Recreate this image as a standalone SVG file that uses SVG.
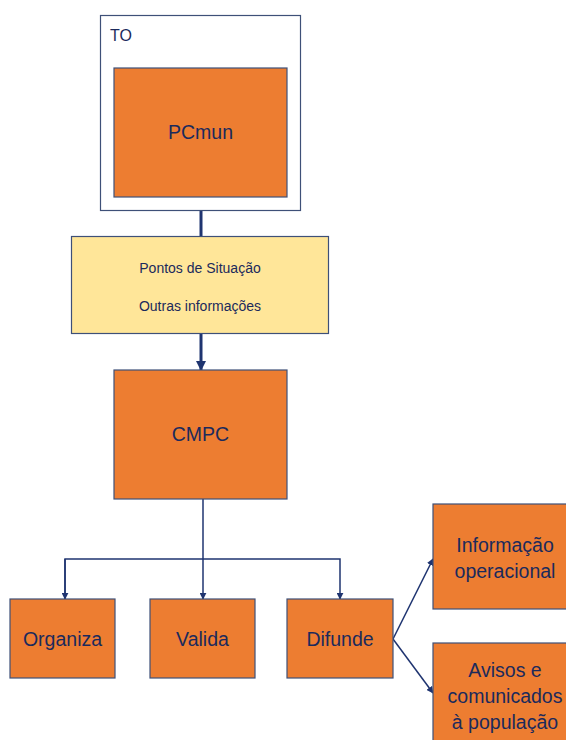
<svg xmlns="http://www.w3.org/2000/svg" width="566" height="740" viewBox="0 0 566 740">
<style>
.box{fill:#ED7D31;stroke:#3E5078;stroke-width:1.2}
.t{font-family:"Liberation Sans",Arial,sans-serif;fill:#1B2A5C;text-anchor:middle}
.big{font-size:19.5px}
.sm{font-size:14px}
.ln{stroke:#1F3470;stroke-width:1.5;fill:none}
</style>
<defs>
<marker id="ah" viewBox="0 0 10 10" refX="9" refY="5" markerWidth="7" markerHeight="7" orient="auto" markerUnits="userSpaceOnUse"><path d="M0,0 L10,5 L0,10 z" fill="#1F3470"/></marker>
<marker id="ahb" viewBox="0 0 10 10" refX="9" refY="5" markerWidth="10" markerHeight="10" orient="auto" markerUnits="userSpaceOnUse"><path d="M0,0 L10,5 L0,10 z" fill="#1F3470"/></marker>
</defs>
<g id="connectors">
<line class="ln" x1="201" y1="211" x2="201" y2="236" style="stroke-width:3"/>
<line class="ln" x1="201" y1="334" x2="201" y2="370" style="stroke-width:3" marker-end="url(#ahb)"/>
<line class="ln" x1="203" y1="499" x2="203" y2="599" marker-end="url(#ah)"/>
<polyline class="ln" points="65,599 65,559 340,559 340,599" marker-end="url(#ah)"/>
<line class="ln" x1="65" y1="559" x2="65" y2="599" marker-end="url(#ah)"/>
<line class="ln" x1="393" y1="639" x2="433" y2="559" marker-end="url(#ah)"/>
<line class="ln" x1="393" y1="639" x2="433" y2="693" marker-end="url(#ah)"/>
</g>
<g id="TO">
<rect x="100.5" y="15.5" width="200" height="195" fill="#fff" stroke="#3E5078" stroke-width="1.2"/>
<text class="t" x="110" y="41" style="font-size:16px;text-anchor:start">TO</text>
</g>
<g id="PCmun">
<rect class="box" x="114" y="68" width="173" height="129"/>
<text class="t big" x="200.5" y="139">PCmun</text>
</g>
<g id="info">
<rect x="71.5" y="236.5" width="257" height="97" fill="#FFE699" stroke="#3E5078" stroke-width="1.2"/>
<text class="t sm" x="200" y="273">Pontos de Situação</text>
<text class="t sm" x="200" y="311">Outras informações</text>
</g>
<g id="CMPC">
<rect class="box" x="114" y="370" width="173" height="129"/>
<text class="t big" x="200.5" y="441">CMPC</text>
</g>
<g id="Organiza">
<rect class="box" x="10" y="599" width="105" height="79"/>
<text class="t big" x="62.5" y="646">Organiza</text>
</g>
<g id="Valida">
<rect class="box" x="150" y="599" width="105" height="79"/>
<text class="t big" x="202.5" y="646">Valida</text>
</g>
<g id="Difunde">
<rect class="box" x="287" y="599" width="106" height="79"/>
<text class="t big" x="340" y="646">Difunde</text>
</g>
<g id="InfoOp">
<rect class="box" x="433" y="504" width="145" height="105"/>
<text class="t big" x="505" y="552">Informação</text>
<text class="t big" x="505" y="578">operacional</text>
</g>
<g id="Avisos">
<rect class="box" x="433" y="643" width="145" height="105"/>
<text class="t big" x="505" y="677">Avisos e</text>
<text class="t big" x="505" y="703">comunicados</text>
<text class="t big" x="505" y="729">à população</text>
</g>
</svg>
